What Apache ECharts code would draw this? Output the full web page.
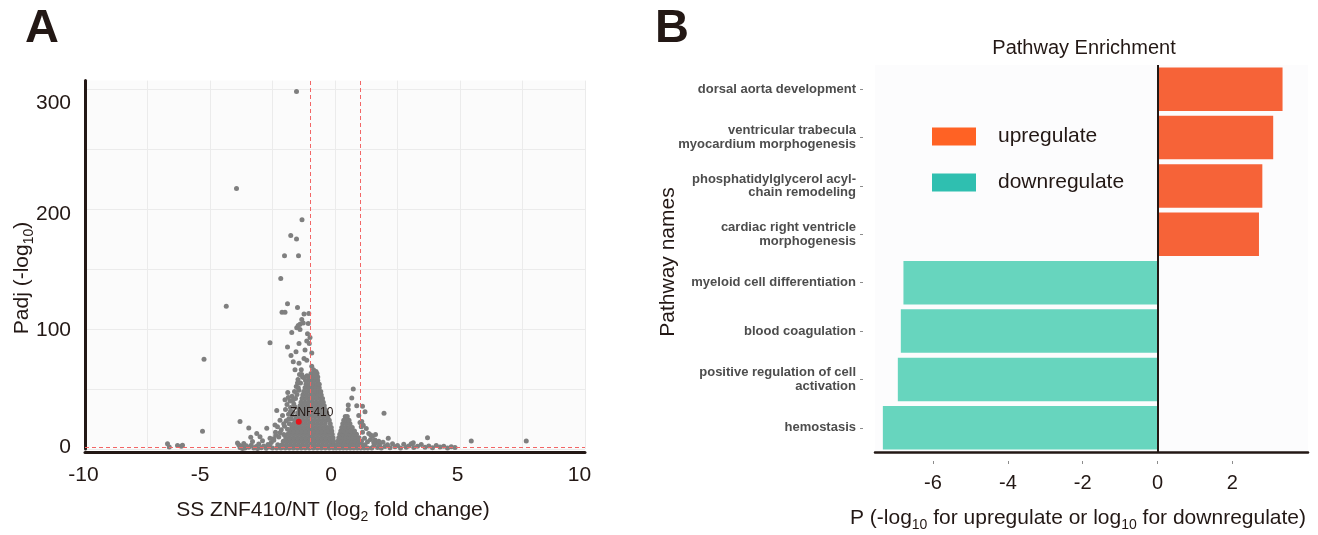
<!DOCTYPE html>
<html><head><meta charset="utf-8">
<script src="https://cdn.jsdelivr.net/npm/echarts@6/dist/echarts.min.js"></script>
<style>html,body{margin:0;padding:0;background:#fff}#c{width:1318px;height:535px}</style>
</head><body><div id="c"></div><script>
// ---------- Panel A data (volcano) ----------
const xTicksA = [-10, -5, 0, 5, 10];
const yTicksA = [0, 100, 200, 300];
const fcThresholds = [-1, 1];
const padjThreshold = 1.3;
const znf410 = [-1.45, 22.7];
// dense cloud, rows: [padj, [log2FC values]]
const leftMound = [
 [0.8, [-2.5,-2.33,-2.16,-1.99,-1.83,-1.67,-1.51,-1.35,-1.19,-1.03,-0.87,-0.71,-0.55,-0.39,-0.23,-0.07]],
 [3.6, [-2.29,-2.12,-1.95,-1.79,-1.63,-1.47,-1.31,-1.15,-0.99,-0.83,-0.67,-0.51,-0.35,-0.19,-0.05]],
 [6.4, [-2.07,-1.91,-1.75,-1.59,-1.43,-1.27,-1.11,-0.95,-0.79,-0.63,-0.47,-0.31,-0.16,-0.06]],
 [9.3, [-1.97,-1.81,-1.65,-1.49,-1.33,-1.17,-1.01,-0.85,-0.69,-0.53,-0.37,-0.21,-0.08]],
 [12.2, [-1.89,-1.73,-1.57,-1.41,-1.25,-1.09,-0.93,-0.77,-0.61,-0.45,-0.29,-0.11]],
 [15.1, [-1.81,-1.65,-1.49,-1.33,-1.17,-1.01,-0.85,-0.69,-0.53,-0.37,-0.23,-0.13]],
 [18, [-1.73,-1.57,-1.41,-1.25,-1.09,-0.93,-0.77,-0.61,-0.45,-0.29,-0.15]],
 [21, [-1.66,-1.51,-1.35,-1.19,-1.03,-0.87,-0.71,-0.55,-0.39,-0.19]],
 [24, [-1.6,-1.45,-1.29,-1.13,-0.97,-0.81,-0.65,-0.49,-0.33,-0.23]],
 [27, [-1.55,-1.4,-1.24,-1.08,-0.92,-0.76,-0.6,-0.44,-0.28]],
 [30, [-1.49,-1.34,-1.18,-1.02,-0.87,-0.72,-0.57,-0.43,-0.33]],
 [33, [-1.44,-1.29,-1.14,-0.99,-0.84,-0.69,-0.54,-0.39]],
 [36, [-1.4,-1.25,-1.1,-0.95,-0.8,-0.65,-0.51,-0.43]],
 [39, [-1.36,-1.21,-1.06,-0.91,-0.76,-0.61,-0.47]],
 [42, [-1.32,-1.17,-1.02,-0.87,-0.72,-0.58,-0.5]],
 [45, [-1.29,-1.14,-0.99,-0.84,-0.69,-0.55]],
 [48, [-1.25,-1.1,-0.95,-0.8,-0.66,-0.57]],
 [51, [-1.2,-1.05,-0.9,-0.76,-0.63]],
 [54, [-1.16,-1.01,-0.87,-0.73,-0.63]],
 [57, [-1.1,-0.96,-0.82,-0.69]],
 [60, [-1.03,-0.9,-0.78,-0.69]],
 [63, [-0.96,-0.83,-0.72]]
];
const rightMound = [
 [0.8, [0.05,0.19,0.33,0.47,0.61,0.75,0.89,1.03,1.17,1.31,1.47]],
 [3.6, [0.07,0.21,0.35,0.49,0.63,0.77,0.91,1.05,1.2]],
 [6.4, [0.11,0.25,0.39,0.53,0.67,0.81,0.95,1.06]],
 [9.3, [0.15,0.29,0.43,0.57,0.71,0.85,0.96]],
 [12.2, [0.19,0.33,0.47,0.61,0.75,0.86]],
 [15.1, [0.23,0.37,0.51,0.65,0.78]],
 [18, [0.27,0.41,0.55,0.69]],
 [21, [0.31,0.45,0.6]],
 [24, [0.35,0.48,0.56]],
 [27, [0.41,0.49]]
];
const leftFlank = [[-2.45,8.5],[-2.38,14],[-2.3,18.5],[-2.25,10],[-2.2,24],[-2.15,16],[-2.1,28],[-2.05,12],[-2.02,19],[-1.98,33],[-1.95,23.5],[-1.92,37],[-1.9,16.5],[-1.86,29],[-1.83,21],[-1.8,40],[-1.78,34.5],[-1.75,25],[-1.72,44],[-1.7,19.5],[-1.68,31],[-1.65,37.5],[-1.62,48],[-1.58,42],[-1.55,52],[-1.52,45.5],[-1.48,58],[-1.45,49],[-1.42,62],[-1.38,55],[-1.35,66],[-1.3,60]];
const rightFlank = [[1.1,14],[1.18,9],[1.25,17],[1.3,6],[1.35,13],[1.42,8],[1.55,5.5],[1.62,12],[1.05,18.5],[1.0,22]];
const baseLeft = [[-3.85,3.5],[-3.8,1.2],[-3.72,2.2],[-3.65,4.5],[-3.6,0.8],[-3.55,2.8],[-3.45,1.5],[-3.35,3.2],[-3.25,0.9],[-3.15,2.1],[-3.05,4.2],[-2.95,1.1],[-2.85,2.6],[-2.75,0.7],[-2.68,3.8],[-2.6,1.6],[-2.55,5.5],[-3.9,5.0],[-3.3,6.2],[-2.9,6.8],[-2.62,2.4],[-3.7,0.5],[-3.1,0.5]];
const baseRight = [[1.55,2.5],[1.62,4.8],[1.7,1.2],[1.78,3.4],[1.85,0.8],[1.92,5.6],[2.0,2.1],[2.1,3.6],[2.2,1.0],[2.3,4.4],[2.4,1.8],[2.5,2.9],[2.62,0.9],[2.75,3.9],[2.85,1.5],[2.95,2.6],[3.05,4.3],[3.15,1.2],[3.3,2.2],[3.45,3.8],[3.6,1.4],[3.75,2.5],[3.9,1.0],[4.05,3.0],[4.2,1.6],[4.35,2.2],[4.5,0.9],[4.65,1.8],[4.8,1.3],[1.6,7.5],[1.75,6.5]];
const outliers = [
 [-1.54,298],[-3.94,217],[-1.32,191],[-1.77,178],[-1.54,175],[-2.02,161],[-1.46,161],[-2.17,142],
 [-4.35,119],[-1.9,121],[-1.5,118],[-2.12,114],[-2.0,114],[-1.24,112.5],[-1.05,113],
 [-1.33,108],[-1.27,105],[-1.4,104],[-1.07,104.5],[-1.53,101],[-1.47,103],[-1.4,99.5],
 [-1.73,97],[-1.1,96],[-1.0,93],[-2.6,88.5],[-1.9,85],[-1.44,88],[-1.13,90],[-1.03,88],
 [-0.93,80],[-1.56,81],[-1.76,78],[-1.2,82.5],[-1.24,75.5],[-1.13,74],[-1.67,72.8],[-1.44,71.4],
 [-0.93,69],[-0.86,66],[-0.76,64.5],[-0.8,61.5],[-1.6,66],[-1.33,62],[-1.25,59.5],[-1.12,61],[-1.18,57],
 [-1.5,55],[-1.47,51],[-1.89,47],[-2.0,41],[-2.33,32],[-1.87,43],[-1.67,41],[-1.6,35],
 [-1.72,28],[-1.85,25],[-2.05,21],[-1.78,31.5],
 [-3.8,23],[-3.45,17.6],[-3.13,13],[-2.73,17.3],[-2.4,20],[-3.37,9.8],[-3.0,10.3],[-2.37,11.5],
 [-5.3,14.7],[-5.24,74.7],[-2.6,9],[-2.2,13.5],[-2.45,7.2],
 [0.73,50],[0.67,42.5],[0.87,36],[0.53,36.7],[0.53,33],[1.1,35.6],[1.2,31],[1.96,29.7],
 [1.07,23],[1.13,19.7],[1.43,11.7],[2.13,9],[3.13,5.3],[3.7,9.4],[1.5,10.7],[0.95,28],
 [5.45,6.7],[7.65,6.7],[-6.7,4.4],[-6.63,1.6],[-6.3,3],[-6.1,3.2],[-6.15,2.2]
];

// ---------- Panel B data (pathway enrichment) ----------
const pathways = [
 'dorsal aorta development',
 'ventricular trabecula\nmyocardium morphogenesis',
 'phosphatidylglycerol acyl-\nchain remodeling',
 'cardiac right ventricle\nmorphogenesis',
 'myeloid cell differentiation',
 'blood coagulation',
 'positive regulation of cell\nactivation',
 'hemostasis'
];
const upValues = [3.34, 3.09, 2.80, 2.71];          // -log10 P, upregulated
const downValues = [-6.79, -6.86, -6.94, -7.34];    // log10 P, downregulated
const xTicksB = [-6, -4, -2, 0, 2];

// ---------- build ----------
const FONT = 'Liberation Sans, Arial, sans-serif';
const INK = '#231815';
const flat = rows => rows.flatMap(r => r[1].map(x => [x, r[0]]));
const genePoints = flat(leftMound).concat(flat(rightMound), leftFlank, rightFlank, baseLeft, baseRight, outliers);
const upData = upValues.concat(downValues.map(() => '-'));
const downData = upValues.map(() => '-').concat(downValues);

const xShift = {'-10': 3, '-5': 20, '0': 8, '5': 5, '10': 11};
const yShift = {'0': [0,0,3,0], '100': [2,0,0,0], '200': [10,0,0,0], '300': [28,0,0,0]};
const xRich = {}, yRich = {};
xTicksA.forEach((v, i) => { xRich['x' + i] = {fontSize: 21, fontFamily: FONT, color: INK, padding: [0, xShift[v], 0, 0]}; });
yTicksA.forEach((v, i) => { yRich['y' + i] = {fontSize: 21, fontFamily: FONT, color: INK, padding: yShift[v]}; });

const nameRich = {
  n: {fontSize: 21, fontFamily: FONT, fill: INK, color: INK, lineHeight: 28, verticalAlign: 'middle'},
  s: {fontSize: 14, fontFamily: FONT, fill: INK, color: INK, lineHeight: 14, verticalAlign: 'bottom'}
};

const option = {
  animation: false,
  backgroundColor: '#ffffff',
  grid: [
    {left: 85, right: 733, top: 80.6, bottom: 86, show: true, backgroundColor: '#FBFBFB', borderWidth: 0},
    {left: 875, right: 10, top: 65, bottom: 83, show: true, backgroundColor: '#FCFCFD', borderWidth: 0}
  ],
  xAxis: [
    {gridIndex: 0, type: 'value', min: -10, max: 10, interval: 2.5, offset: 3,
     axisLine: {show: true, onZero: false, lineStyle: {color: INK, width: 3}},
     axisTick: {show: false},
     splitLine: {show: true, lineStyle: {color: '#EBEBEB', width: 1}},
     axisLabel: {margin: 13, fontSize: 21, fontFamily: FONT, color: INK, rich: xRich,
       formatter: v => { const i = xTicksA.indexOf(v); return i < 0 ? '' : '{x' + i + '|' + v + '}'; }}},
    {gridIndex: 1, type: 'value', min: -7.55, max: 4.02,
     axisLine: {show: true, onZero: false, lineStyle: {color: INK, width: 2.5}},
     axisTick: {show: false}, axisLabel: {show: false}, splitLine: {show: false}},
    {gridIndex: 1, type: 'value', min: -7.55, max: 4.02, position: 'bottom', offset: 9,
     axisLine: {show: false, onZero: false},
     axisTick: {show: true, length: 3, customValues: xTicksB, lineStyle: {color: '#8c8c8c', width: 1}},
     axisLabel: {show: true, customValues: xTicksB, margin: 12, fontSize: 20, fontFamily: FONT, color: INK},
     splitLine: {show: false}}
  ],
  yAxis: [
    {gridIndex: 0, type: 'value', min: 0, max: 307, interval: 50,
     axisLine: {show: true, onZero: false, lineStyle: {color: INK, width: 3}},
     axisTick: {show: false},
     splitLine: {show: true, showMaxLine: false, lineStyle: {color: '#EBEBEB', width: 1}},
     axisLabel: {margin: 14, fontSize: 21, fontFamily: FONT, color: INK, rich: yRich, showMaxLabel: false,
       formatter: v => { const i = yTicksA.indexOf(v); return i < 0 ? '' : '{y' + i + '|' + v + '}'; }}},
    {gridIndex: 1, type: 'category', inverse: true, data: pathways, offset: 12, position: 'left',
     axisLine: {show: false, onZero: false},
     axisTick: {show: true, alignWithLabel: true, length: 3, lineStyle: {color: '#8c8c8c', width: 1}},
     axisLabel: {fontSize: 13, fontWeight: 'bold', fontFamily: FONT, color: '#4D4D4D', lineHeight: 13.5, margin: 7},
     splitLine: {show: false}}
  ],
  legend: {
    data: ['upregulate', 'downregulate'], orient: 'vertical', left: 932, top: 126, padding: 0,
    itemWidth: 44, itemHeight: 18, itemGap: 25, icon: 'rect', selectedMode: false,
    textStyle: {fontSize: 21, fontFamily: FONT, color: INK, padding: [0, 0, 4, 17]}
  },
  series: [
    {type: 'scatter', name: 'genes', xAxisIndex: 0, yAxisIndex: 0, data: genePoints, symbolSize: 5,
     clip: false, silent: true, itemStyle: {color: '#7F7F7F', opacity: 1},
     markLine: {silent: true, symbol: ['none', 'none'], label: {show: false},
       lineStyle: {color: '#F26666', width: 1, type: [4, 3]},
       data: fcThresholds.map(v => ({xAxis: v})).concat([{yAxis: padjThreshold}])}},
    {type: 'scatter', name: 'ZNF410', xAxisIndex: 0, yAxisIndex: 0, data: [znf410], symbolSize: 6,
     clip: false, silent: true, itemStyle: {color: '#E8141C', opacity: 1},
     label: {show: true, formatter: 'ZNF410', position: 'top', distance: 0, offset: [13, 0],
       fontSize: 12, fontFamily: FONT, color: INK}},
    {type: 'bar', name: 'up', xAxisIndex: 1, yAxisIndex: 1, stack: 't', barWidth: '90%', data: upData,
     silent: true, itemStyle: {color: '#F66338'},
     markLine: {silent: true, symbol: ['none', 'none'], label: {show: false},
       lineStyle: {color: INK, width: 2, type: 'solid'}, data: [{xAxis: 0}]}},
    {type: 'bar', name: 'down', xAxisIndex: 1, yAxisIndex: 1, stack: 't', barWidth: '90%', data: downData,
     silent: true, itemStyle: {color: '#67D5BE'}},
    {type: 'scatter', name: 'upregulate', xAxisIndex: 1, yAxisIndex: 1, data: [], itemStyle: {color: '#FF6224', opacity: 1}},
    {type: 'scatter', name: 'downregulate', xAxisIndex: 1, yAxisIndex: 1, data: [], itemStyle: {color: '#2FBFB0', opacity: 1}}
  ],
  graphic: [
    {type: 'text', x: 25, y: 29, style: {text: 'A', font: 'bold 47px ' + FONT, fill: INK, align: 'left', verticalAlign: 'middle'}},
    {type: 'text', x: 655, y: 29, style: {text: 'B', font: 'bold 47px ' + FONT, fill: INK, align: 'left', verticalAlign: 'middle'}},
    {type: 'text', x: 22, y: 278, rotation: Math.PI / 2,
     style: {text: '{n|Padj (-log}{s|10}{n|)}', rich: nameRich, align: 'center', verticalAlign: 'middle', fill: INK}},
    {type: 'text', x: 333, y: 510,
     style: {text: '{n|SS ZNF410/NT (log}{s|2}{n| fold change)}', rich: nameRich, align: 'center', verticalAlign: 'middle', fill: INK}},
    {type: 'text', x: 1084, y: 48,
     style: {text: 'Pathway Enrichment', font: '20px ' + FONT, fill: INK, align: 'center', verticalAlign: 'middle'}},
    {type: 'text', x: 668, y: 262, rotation: Math.PI / 2,
     style: {text: 'Pathway names', font: '21px ' + FONT, fill: INK, align: 'center', verticalAlign: 'middle'}},
    {type: 'text', x: 1078, y: 518,
     style: {text: '{n|P (-log}{s|10}{n| for upregulate or log}{s|10}{n| for downregulate)}', rich: nameRich, align: 'center', verticalAlign: 'middle', fill: INK}}
  ]
};
echarts.init(document.getElementById('c')).setOption(option);
</script></body></html>
